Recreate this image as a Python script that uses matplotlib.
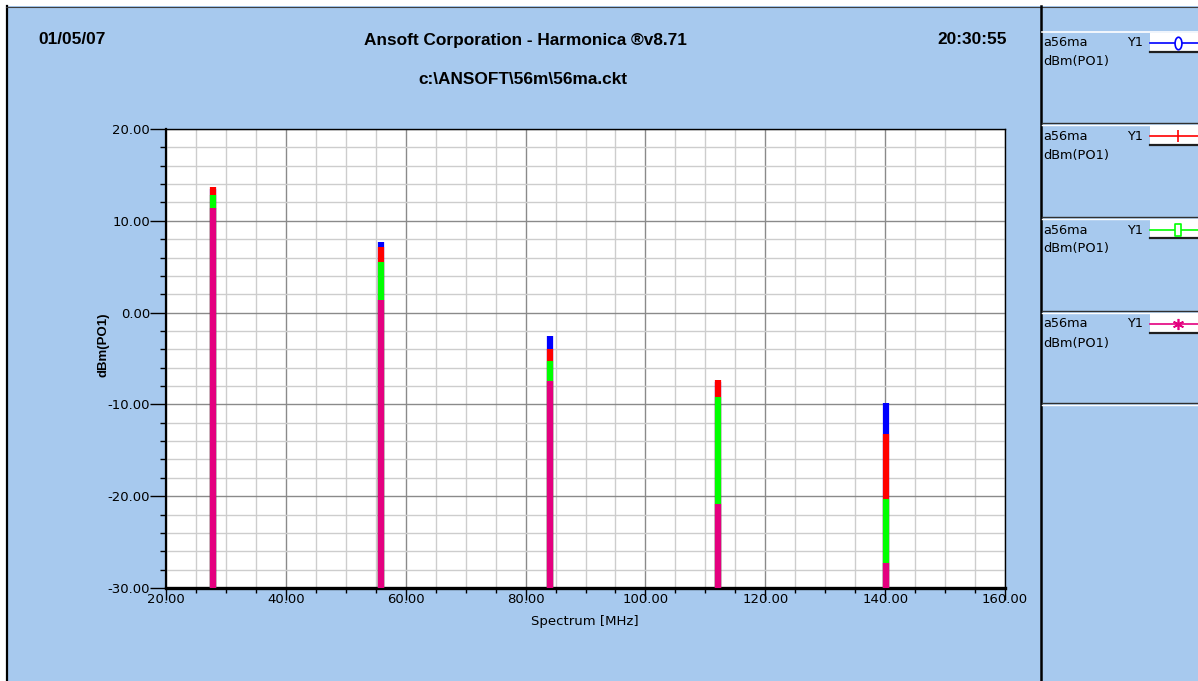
import matplotlib
matplotlib.use("Agg")
import matplotlib.pyplot as plt
from matplotlib.lines import Line2D
from matplotlib.patches import Rectangle
from matplotlib.path import Path
from matplotlib.transforms import Affine2D
from matplotlib.ticker import MultipleLocator, FormatStrFormatter

# Harmonic spectrum of the output port (dBm) for four sweeps of a56ma
freqs = [27.8, 55.9, 84.0, 112.1, 140.2]
series_blue = [13.5, 7.7, -2.6, -7.6, -9.8]
series_red = [13.7, 7.1, -4.0, -7.3, -13.2]
series_green = [12.8, 5.5, -5.3, -9.2, -20.3]
series_magenta = [11.4, 1.4, -7.5, -20.9, -27.3]

series_colors = ["#0000FF", "#FF0000", "#00FF00", "#E4007F"]
legend_name = "a56ma"
legend_axis = "Y1"
legend_quantity = "dBm(PO1)"

date_text = "01/05/07"
title_text = "Ansoft Corporation - Harmonica \u00aev8.71"
time_text = "20:30:55"
subtitle_text = "c:\\ANSOFT\\56m\\56ma.ckt"
x_label = "Spectrum [MHz]"
y_label = "dBm(PO1)"

W, H = 1198, 681
BG = "#A7C9EE"

# narrow legend markers: tall ellipse, tick, tall rectangle, asterisk
ellipse = Path.unit_circle().transformed(Affine2D().scale(0.55, 1.0))
tall_rect = Path([(-0.55, -1), (0.55, -1), (0.55, 1), (-0.55, 1), (-0.55, -1)],
                 [Path.MOVETO, Path.LINETO, Path.LINETO, Path.LINETO, Path.CLOSEPOLY])
series_markers = [ellipse, "|", tall_rect, (6, 2, 0)]
marker_sizes = [9, 9, 9, 8]


def fx(x):
    return x / W


def fy(y):
    return 1 - y / H


fig = plt.figure(figsize=(W / 100, H / 100), dpi=100, facecolor=BG)

# window frame: white strips at top and left, dark edge lines
fig.add_artist(Rectangle((0, fy(6)), 1, 6 / H, transform=fig.transFigure,
                         facecolor="white", edgecolor="none"))
fig.add_artist(Rectangle((0, 0), 6 / W, 1, transform=fig.transFigure,
                         facecolor="white", edgecolor="none"))
fig.add_artist(Line2D([fx(6.5), fx(6.5)], [0, fy(6)], transform=fig.transFigure,
                      color="black", lw=1.6))
fig.add_artist(Line2D([fx(6), 1], [fy(6.5), fy(6.5)], transform=fig.transFigure,
                      color="#404040", lw=0.8))

# plot area
ax = fig.add_axes([fx(166), fy(588), (1005 - 166) / W, (588 - 129) / H])
ax.set_facecolor("white")
ax.set_xlim(20, 160)
ax.set_ylim(-30, 20)

ax.xaxis.set_major_locator(MultipleLocator(20))
ax.xaxis.set_minor_locator(MultipleLocator(5))
ax.yaxis.set_major_locator(MultipleLocator(10))
ax.yaxis.set_minor_locator(MultipleLocator(2))
ax.xaxis.set_major_formatter(FormatStrFormatter("%.2f"))
ax.yaxis.set_major_formatter(FormatStrFormatter("%.2f"))

ax.grid(which="minor", color="#CDCDCD", lw=1.0)
ax.grid(which="major", color="#8A8A8A", lw=1.0)
ax.set_axisbelow(True)

for side in ["top", "right"]:
    ax.spines[side].set_linewidth(1.0)
ax.spines["left"].set_linewidth(1.6)
ax.spines["bottom"].set_linewidth(2.4)
for sp in ax.spines.values():
    sp.set_color("black")

ax.tick_params(axis="y", which="major", length=11.5, width=1.0, pad=0,
               labelsize=9.5, direction="out")
ax.tick_params(axis="y", which="minor", length=4.3, width=1.0, direction="out")
ax.tick_params(axis="x", which="major", length=8.6, width=1.0, pad=-5,
               labelsize=9.5, direction="out")
ax.tick_params(axis="x", which="minor", length=3.6, width=1.0, direction="out")
for lab in ax.get_xticklabels() + ax.get_yticklabels():
    lab.set_family("DejaVu Sans")

# spectral lines, drawn in sweep order so later sweeps cover earlier ones
for vals, col in zip([series_blue, series_red, series_green, series_magenta],
                     series_colors):
    ax.vlines(freqs, -30, vals, colors=col, lw=4.5, zorder=3)

# header texts
bold = dict(fontweight="bold", family="Liberation Sans", fontsize=12.4)
fig.text(fx(38), fy(40), date_text, ha="left", va="center", **bold)
fig.text(fx(525), fy(40), title_text, ha="center", va="center", **bold)
fig.text(fx(1007), fy(40), time_text, ha="right", va="center", **bold)
fig.text(fx(523), fy(80), subtitle_text, ha="center", va="center", **bold)

fig.text(fx(585), fy(622), x_label, ha="center", va="center",
         family="DejaVu Sans", fontsize=9.5)
fig.text(fx(104), fy(345), y_label, ha="center", va="center", rotation=90,
         fontweight="bold", family="Liberation Sans", fontsize=9.5)

# legend panel on the right
fig.add_artist(Line2D([fx(1041), fx(1041)], [0, fy(6)], transform=fig.transFigure,
                      color="black", lw=1.8))
fig.add_artist(Line2D([fx(1042), 1], [fy(32), fy(32)], transform=fig.transFigure,
                      color="white", lw=1.2))
sep_rows = [123, 217, 311, 403]
for y in sep_rows:
    fig.add_artist(Line2D([fx(1042), 1], [fy(y), fy(y)], transform=fig.transFigure,
                          color="#303030", lw=1.0))
    fig.add_artist(Line2D([fx(1042), 1], [fy(y + 2.2), fy(y + 2.2)],
                          transform=fig.transFigure, color="white", lw=1.0))

entry_tops = [32, 125, 219, 313]
for top, col, mk, ms in zip(entry_tops, series_colors, series_markers, marker_sizes):
    ty = top + 11
    fig.text(fx(1043), fy(ty), legend_name, ha="left", va="center",
             family="DejaVu Sans", fontsize=9.3)
    fig.text(fx(1043), fy(ty + 19), legend_quantity, ha="left", va="center",
             family="DejaVu Sans", fontsize=9.3)
    fig.text(fx(1127), fy(ty), legend_axis, ha="left", va="center",
             family="DejaVu Sans", fontsize=9.3)
    fig.add_artist(Rectangle((fx(1150), fy(top + 20)), (W - 1150) / W, 19 / H,
                             transform=fig.transFigure, facecolor="white",
                             edgecolor="none"))
    fig.add_artist(Line2D([fx(1150), 1], [fy(top + 19.5), fy(top + 19.5)],
                          transform=fig.transFigure, color="#202020", lw=1.6))
    fig.add_artist(Line2D([fx(1150), 1], [fy(ty), fy(ty)],
                          transform=fig.transFigure, color=col, lw=1.2))
    fig.add_artist(Line2D([fx(1178)], [fy(ty)], transform=fig.transFigure,
                          color=col, marker=mk, markersize=ms,
                          markerfacecolor="white", markeredgecolor=col,
                          markeredgewidth=1.2, linestyle="none"))

fig.savefig("out.png", dpi=100, facecolor=BG)
